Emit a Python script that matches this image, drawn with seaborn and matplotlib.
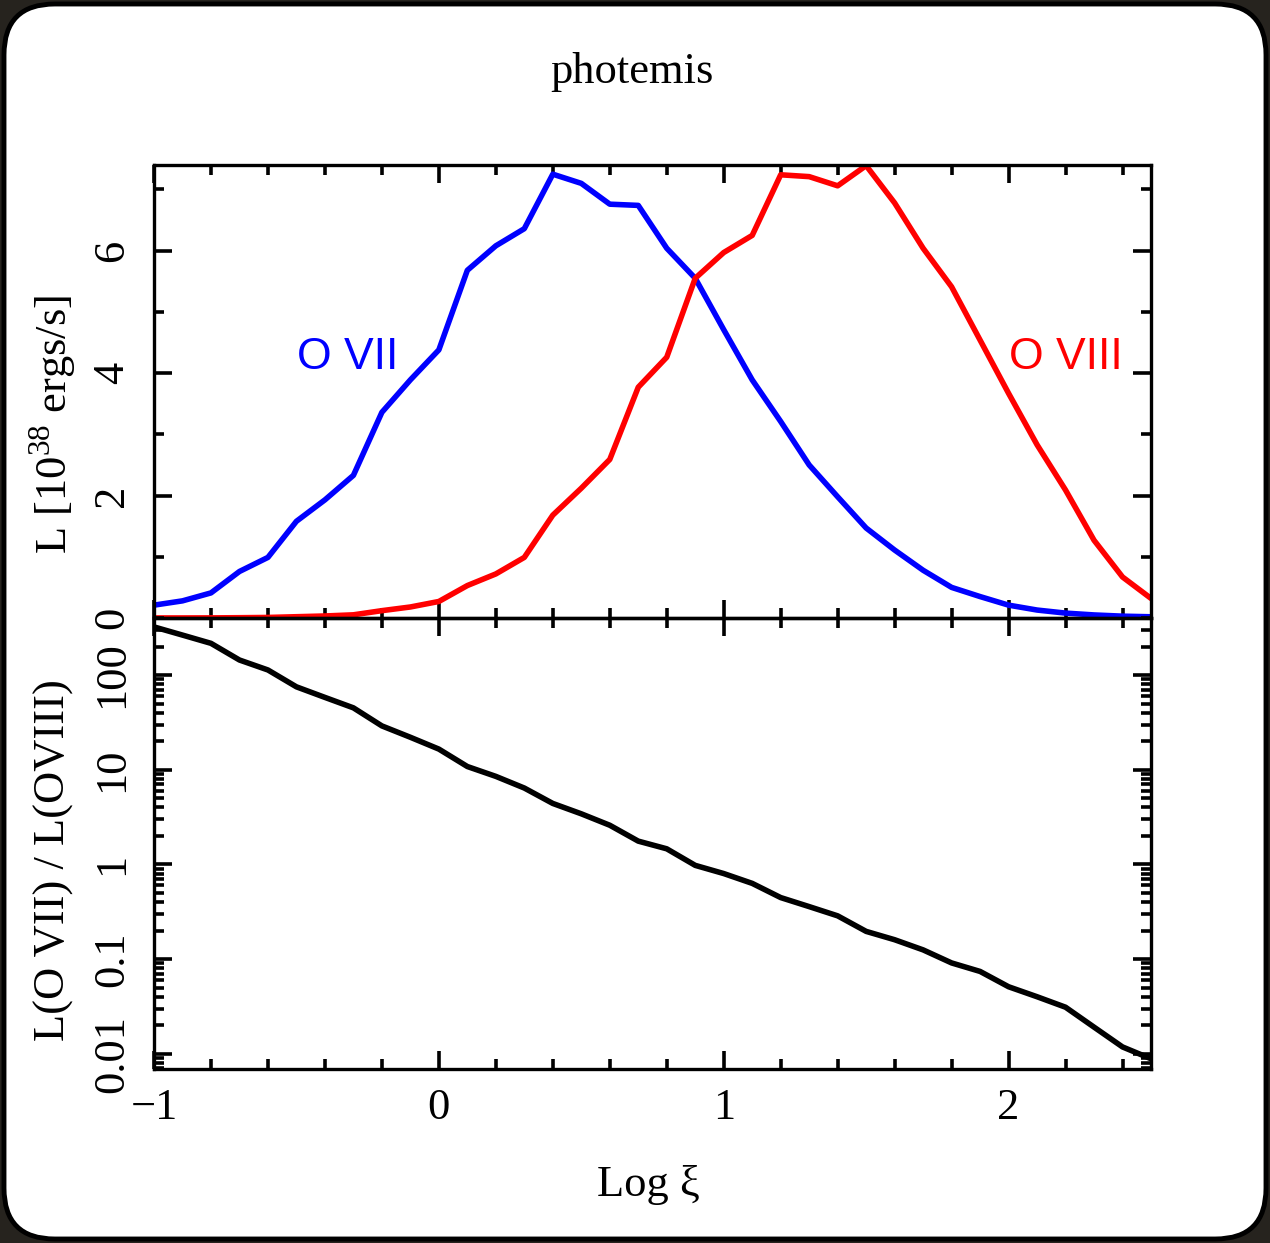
import numpy as np
import pandas as pd
import matplotlib
matplotlib.use("Agg")
import matplotlib.pyplot as plt
import matplotlib.ticker as mticker
from matplotlib.patches import FancyBboxPatch
import seaborn as sns

# ---- data ----
log_xi = [-1.0, -0.9, -0.8, -0.7, -0.6, -0.5, -0.4, -0.3, -0.2, -0.1,
          0.0, 0.1, 0.2, 0.3, 0.4, 0.5, 0.6, 0.7, 0.8, 0.9,
          1.0, 1.1, 1.2, 1.3, 1.4, 1.5, 1.6, 1.7, 1.8, 1.9,
          2.0, 2.1, 2.2, 2.3, 2.4, 2.5]
L_O7 = [0.21, 0.28, 0.41, 0.76, 0.99, 1.58, 1.93, 2.33, 3.36, 3.89,
        4.38, 5.68, 6.08, 6.36, 7.25, 7.10, 6.76, 6.74, 6.04, 5.55,
        4.71, 3.89, 3.21, 2.50, 1.98, 1.47, 1.11, 0.78, 0.50, 0.35,
        0.21, 0.13, 0.08, 0.05, 0.03, 0.02]
L_O8 = [0.001, 0.001, 0.002, 0.005, 0.009, 0.021, 0.033, 0.052, 0.12, 0.18,
        0.27, 0.53, 0.72, 0.99, 1.68, 2.12, 2.59, 3.77, 4.26, 5.55,
        5.97, 6.25, 7.24, 7.21, 7.06, 7.39, 6.78, 6.04, 5.41, 4.54,
        3.67, 2.83, 2.09, 1.27, 0.67, 0.32]
ratio = [322, 264, 216, 144, 113, 75, 58, 45, 29, 22,
         16.5, 10.8, 8.5, 6.4, 4.4, 3.42, 2.59, 1.76, 1.46, 0.976,
         0.80, 0.63, 0.446, 0.358, 0.286, 0.196, 0.160, 0.125, 0.091, 0.074,
         0.051, 0.040, 0.031, 0.0191, 0.0118, 0.00885]
ion_labels = ["O VII", "O VIII"]
ion_colors = ["#0000ff", "#ff0000"]
top_yticks = [0, 2, 4, 6]
bottom_yticks = [0.01, 0.1, 1, 10, 100]
xticks = [-1, 0, 1, 2]

df_L = pd.concat([
    pd.DataFrame({"logxi": log_xi, "L": L_O7, "ion": ion_labels[0]}),
    pd.DataFrame({"logxi": log_xi, "L": L_O8, "ion": ion_labels[1]}),
])
df_r = pd.DataFrame({"logxi": log_xi, "ratio": ratio})

# ---- style ----
sns.set_theme(style="ticks")
SERIF = ["Liberation Serif", "DejaVu Serif"]
plt.rcParams["font.family"] = SERIF
plt.rcParams["mathtext.fontset"] = "custom"
plt.rcParams["mathtext.rm"] = "Liberation Serif"
plt.rcParams["axes.unicode_minus"] = True
plt.rcParams["text.color"] = "black"
plt.rcParams["axes.labelcolor"] = "black"
plt.rcParams["xtick.color"] = "black"
plt.rcParams["ytick.color"] = "black"
FS = 32

W, H = 1270, 1243
fig = plt.figure(figsize=(W / 100, H / 100), dpi=100, facecolor="#26231e")

# rounded white card
card = FancyBboxPatch((4 / W, 4 / H), (W - 8) / W, (H - 8) / H,
                      boxstyle="round,pad=0,rounding_size=0.04",
                      mutation_aspect=W / H,
                      transform=fig.transFigure, facecolor="white",
                      edgecolor="black", linewidth=3.5, zorder=-10)
fig.patches.append(card)

left, right = 154 / W, 1151 / W
y_top_top, y_mid, y_bot = 1 - 165 / H, 1 - 618 / H, 1 - 1069 / H
ax1 = fig.add_axes([left, y_mid, right - left, y_top_top - y_mid])
ax2 = fig.add_axes([left, y_bot, right - left, y_mid - y_bot], sharex=ax1)
for ax in (ax1, ax2):
    ax.set_facecolor("none")

sns.lineplot(data=df_L, x="logxi", y="L", hue="ion", palette=ion_colors,
             hue_order=ion_labels, estimator=None, sort=False,
             linewidth=4.0, legend=False, ax=ax1)
sns.lineplot(data=df_r, x="logxi", y="ratio", color="black",
             estimator=None, sort=False, linewidth=4.0, ax=ax2)

ax1.set_xlim(-1, 2.5)
ax1.set_ylim(0, 7.4)
ax2.set_yscale("log")
ax2.set_ylim(0.0069, 400)

for ax in (ax1, ax2):
    for s in ax.spines.values():
        s.set_linewidth(2.4)
        s.set_color("black")
    ax.tick_params(which="both", direction="in", top=True, right=True,
                   width=2.6, color="black", labelsize=FS, labelcolor="black")
    ax.tick_params(which="major", length=13)
    ax.tick_params(which="minor", length=7)
    ax.xaxis.set_minor_locator(mticker.MultipleLocator(0.2))
    ax.set_xticks(xticks)
    ax.tick_params(axis="x", pad=14)
    ax.tick_params(axis="y", pad=16, labelrotation=90)

ax1.tick_params(axis="x", labelbottom=False)
ax1.set_yticks(top_yticks)
ax1.yaxis.set_minor_locator(mticker.MultipleLocator(1))

ax2.yaxis.set_major_locator(mticker.FixedLocator(bottom_yticks))
ax2.yaxis.set_minor_locator(mticker.LogLocator(base=10, subs=np.arange(2, 10), numticks=50))
ax2.yaxis.set_major_formatter(mticker.FuncFormatter(lambda v, p: f"{v:g}"))
ax2.yaxis.set_minor_formatter(mticker.NullFormatter())

for ax in (ax1, ax2):
    for lab in ax.get_yticklabels():
        lab.set_va("center")
        lab.set_ha("right")

ax1.set_xlabel("")
ax1.set_ylabel(r"L [10$^{38}$ ergs/s]", fontsize=FS, color="black")
ax1.yaxis.set_label_coords(-0.101, 0.426)
ax1.yaxis.label.set_va("center")
ax2.set_ylabel("L(O VII) / L(OVIII)", fontsize=FS, color="black")
ax2.yaxis.set_label_coords(-0.101, 0.463)
ax2.yaxis.label.set_va("center")
ax2.set_xlabel("Log ξ", fontsize=FS, color="black")
ax2.xaxis.set_label_coords(0.4955, -0.257)
ax2.xaxis.label.set_va("center")

SANS = ["Liberation Sans", "DejaVu Sans"]
ax1.text(-0.32, 4.25, ion_labels[0], color=ion_colors[0], fontsize=FS,
         family=SANS, ha="center", va="center")
ax1.text(2.2, 4.25, ion_labels[1], color=ion_colors[1], fontsize=FS,
         family=SANS, ha="center", va="center")

fig.text(632 / W, 1 - 72 / H, "photemis", fontsize=FS, ha="center",
         va="center", color="black")

fig.savefig("out.png", dpi=100, facecolor=fig.get_facecolor())
